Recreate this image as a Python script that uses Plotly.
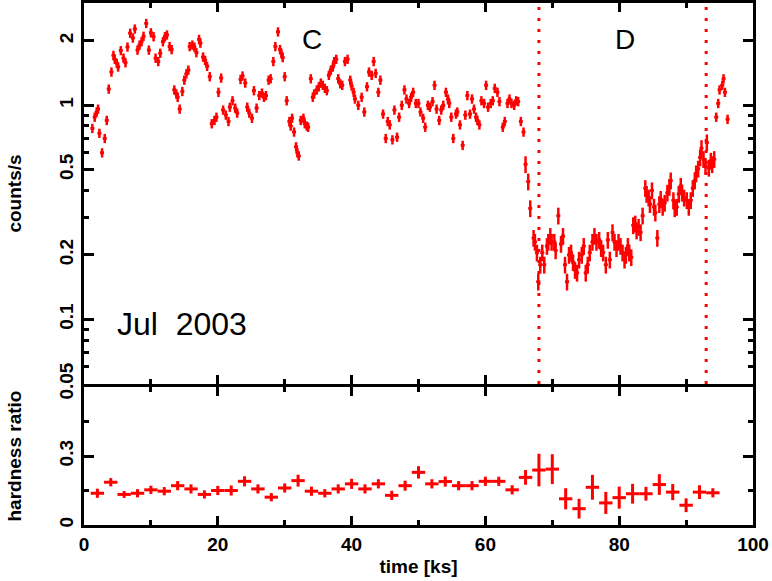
"""
Light curve (counts/s) and hardness ratio, Jul 2003 observation
"""
import math
import plotly.graph_objects as go

RED = '#ff0000'
FONT = 'Liberation Sans'

# light curve, bright part (C), time [ks] / rate [counts/s]
lc_time_high = [1.25, 1.6, 1.9, 2.1, 2.3, 2.7, 3.1, 3.4, 3.7, 4.1, 4.4, 4.6, 4.9, 5.1, 5.5, 5.9,
                6.2, 6.5, 6.9, 7.3, 7.6, 8.0, 8.3, 8.6, 8.9, 9.3, 9.7, 10.0, 10.4, 10.7, 11.1, 11.4,
                11.8, 12.1, 12.4, 12.8, 13.1, 13.5, 13.8, 14.0, 14.3, 14.7, 15.0, 15.3, 15.6, 15.8,
                16.2, 16.5, 16.8, 17.2, 17.4, 17.8, 18.1, 18.4, 18.8, 19.1, 19.5, 19.8,
                20.1, 20.5, 20.8, 21.2, 21.6, 21.8, 22.2, 22.6, 22.9, 23.4, 23.7, 24.1, 24.4, 24.7,
                25.1, 25.4, 25.8, 26.2, 26.6, 26.9, 27.2, 27.6, 27.9, 28.3, 28.6, 29.0, 29.3, 29.5,
                29.7, 30.0, 30.3, 30.7, 30.9, 31.1, 31.4, 31.7, 31.9, 32.1, 32.4, 32.8, 33.0, 33.3,
                33.5, 33.9, 34.2, 34.4, 34.8, 35.1, 35.4, 35.7, 36.0, 36.3, 36.6, 36.9, 37.2, 37.4,
                37.7, 38.0, 38.3, 38.6, 39.0, 39.4, 39.8, 40.0, 40.3, 40.5,
                41.0, 41.5, 41.9, 42.3, 42.6, 43.0, 43.3, 43.6, 44.0, 44.3, 44.7, 45.1, 45.4, 45.7,
                46.1, 46.4, 46.8, 47.1, 47.5, 47.9, 48.2, 48.6, 48.9, 49.2, 49.6, 50.0, 50.3, 50.7,
                51.0, 51.4, 51.7, 52.1, 52.4, 52.7, 53.1, 53.4, 53.7, 54.1, 54.4, 54.6, 54.9, 55.2,
                55.6, 55.8, 56.2, 56.6, 57.0, 57.3, 57.7, 58.0, 58.3, 58.6, 58.8, 59.1, 59.4, 59.8,
                60.1, 60.4, 60.8, 61.1, 61.4, 61.8, 62.1, 62.6, 62.9, 63.3, 63.6, 63.9, 64.3, 64.6,
                64.9, 65.3, 65.7]
lc_rate_high = [0.78, 0.88, 0.93, 0.96, 0.74, 0.60, 0.70, 0.85, 1.19, 1.43, 1.71, 1.64, 1.57, 1.51,
                1.80, 1.66, 1.58, 1.87, 2.17, 2.06, 2.27, 1.81, 1.91, 1.98, 2.10, 2.41, 1.81, 2.18,
                2.09, 1.66, 1.60, 1.75, 1.98, 2.09, 2.13, 1.88, 1.82, 1.18, 1.13, 1.09, 0.96, 1.16,
                1.31, 1.40, 1.46, 1.88, 1.91, 1.87, 1.76, 2.03, 1.95, 1.68, 1.62, 1.52, 1.36, 0.82,
                0.85, 0.88,
                1.15, 1.34, 0.95, 0.90, 0.84, 0.98, 1.05, 0.97, 0.92, 1.32, 1.37, 1.27, 0.98, 0.92,
                0.87, 1.17, 0.97, 1.11, 1.14, 1.09, 1.11, 1.31, 1.33, 1.60, 1.88, 2.20, 1.82, 1.75,
                1.67, 1.36, 1.05, 0.84, 0.80, 0.87, 0.75, 0.64, 0.60, 0.58, 0.85, 0.87, 0.82, 0.80,
                0.79, 1.33, 1.09, 1.13, 1.18, 1.22, 1.27, 1.24, 1.20, 1.17, 1.38, 1.46, 1.51, 1.60,
                1.64, 1.33, 1.26, 1.24, 1.60, 1.64, 1.31, 1.23, 1.15, 1.07,
                1.00, 1.09, 0.93, 1.22, 1.43, 1.38, 1.60, 1.41, 1.15, 1.31, 0.91, 0.70, 0.84, 0.81,
                0.69, 0.95, 0.71, 0.88, 1.00, 1.18, 1.07, 1.02, 1.09, 1.15, 1.02, 1.02, 0.93, 0.87,
                0.79, 1.00, 0.98, 1.04, 1.24, 0.96, 0.85, 0.95, 1.00, 1.15, 1.07, 1.02, 0.88, 0.70,
                0.91, 0.93, 0.81, 0.65, 0.90, 1.11, 0.91, 1.07, 0.96, 0.88, 0.85, 0.81, 1.05, 1.02,
                1.24, 0.98, 1.02, 1.05, 1.20, 1.15, 1.04, 0.79, 0.84, 1.02, 1.07, 1.02, 1.00, 1.05,
                1.04, 0.84, 0.75]

# light curve, faint part (D)
lc_time_low = [66.0, 66.4, 66.7, 67.2, 67.4, 67.7, 67.9, 68.2, 68.5, 68.8, 69.2, 69.4, 69.7, 69.9,
               70.3, 70.5, 70.9, 71.3, 71.6, 71.9, 72.2, 72.5, 72.8, 73.1, 73.4, 73.7, 74.0, 74.4,
               74.7, 75.0, 75.3, 75.6, 76.0, 76.3, 76.6, 77.0, 77.3, 77.6, 78.0, 78.3, 78.6, 79.0,
               79.3, 79.6, 79.9, 80.2, 80.5, 80.8, 81.0, 81.3, 81.5, 81.8, 82.1, 82.4, 82.6, 82.9,
               83.2, 83.5, 83.9, 84.1, 84.4, 84.6, 84.9, 85.2, 85.4, 85.7, 86.0, 86.2, 86.5, 86.8,
               87.2, 87.5, 87.7, 88.1, 88.3, 88.6, 88.9, 89.2, 89.4, 89.7, 90.1, 90.4, 90.7, 91.0,
               91.3, 91.5, 91.8, 92.1, 92.3, 92.6, 92.9, 93.1, 93.4, 93.7, 93.9, 94.2]
lc_rate_low = [0.53, 0.44, 0.33, 0.24, 0.23, 0.205, 0.15, 0.18, 0.205, 0.18, 0.22, 0.23, 0.245, 0.23,
               0.23, 0.21, 0.305, 0.225, 0.245, 0.18, 0.15, 0.20, 0.205, 0.185, 0.17, 0.165, 0.19,
               0.20, 0.22, 0.165, 0.18, 0.205, 0.23, 0.245, 0.23, 0.235, 0.215, 0.205, 0.18, 0.235,
               0.19, 0.255, 0.23, 0.215, 0.23, 0.22, 0.205, 0.19, 0.20, 0.22, 0.205, 0.195, 0.275,
               0.28, 0.26, 0.27, 0.255, 0.305, 0.41, 0.385, 0.37, 0.345, 0.40, 0.335, 0.315, 0.24,
               0.345, 0.365, 0.335, 0.35, 0.39, 0.415, 0.445, 0.36, 0.33, 0.335, 0.385, 0.42, 0.39,
               0.37, 0.36, 0.335, 0.36, 0.41, 0.445, 0.48, 0.505, 0.57, 0.63, 0.56, 0.52, 0.67,
               0.51, 0.55, 0.53, 0.56]

# light curve, recovery at the end
lc_time_end = [94.5, 94.8, 95.0, 95.4, 95.6, 95.8, 96.2]
lc_rate_end = [0.88, 1.02, 1.18, 1.24, 1.33, 1.15, 0.86]

# hardness ratio in 2 ks bins
hr_time = [2, 4, 6, 8, 10, 12, 14, 16, 18, 20, 22, 24, 26, 28, 30, 32, 34, 36, 38, 40, 42, 44, 46,
           48, 50, 52, 54, 56, 58, 60, 62, 64, 66, 68, 70, 72, 74, 76, 78, 80, 82, 84, 86, 88, 90,
           92, 94]
hr_value = [0.138, 0.186, 0.133, 0.138, 0.153, 0.147, 0.171, 0.157, 0.133, 0.150, 0.150, 0.190,
            0.157, 0.121, 0.161, 0.193, 0.147, 0.138, 0.157, 0.179, 0.157, 0.179, 0.129, 0.171,
            0.229, 0.179, 0.189, 0.171, 0.171, 0.190, 0.190, 0.153, 0.207, 0.239, 0.243, 0.114,
            0.071, 0.164, 0.096, 0.119, 0.136, 0.136, 0.176, 0.143, 0.086, 0.143, 0.140]
hr_error = [0.020, 0.018, 0.015, 0.018, 0.018, 0.018, 0.020, 0.020, 0.018, 0.020, 0.022, 0.022,
            0.020, 0.018, 0.020, 0.026, 0.020, 0.018, 0.020, 0.022, 0.020, 0.020, 0.020, 0.022,
            0.027, 0.020, 0.022, 0.020, 0.020, 0.020, 0.020, 0.020, 0.032, 0.071, 0.065, 0.046,
            0.043, 0.054, 0.048, 0.048, 0.043, 0.030, 0.045, 0.035, 0.030, 0.030, 0.020]

# interval boundaries [ks]
boundaries = [68, 93]

x_major = [0, 20, 40, 60, 80, 100]
x_minor = [10, 30, 50, 70, 90]
rate_ticks = [0.05, 0.1, 0.2, 0.5, 1, 2]
rate_labels = ['0.05', '0.1', '0.2', '0.5', '1', '2']
rate_minor = [0.06, 0.07, 0.08, 0.09, 0.3, 0.4, 0.6, 0.7, 0.8, 0.9]


def lc_trace(t, r, pct):
    return go.Scatter(
        x=t, y=r, mode='markers', xaxis='x', yaxis='y',
        marker=dict(color=RED, size=3, symbol='square'),
        error_x=dict(type='constant', value=0.3, color=RED, thickness=2.5, width=0),
        error_y=dict(type='percent', value=pct, color=RED, thickness=2.5, width=0),
        showlegend=False
    )


fig = go.Figure()
fig.add_trace(lc_trace(lc_time_high, lc_rate_high, 5))
fig.add_trace(lc_trace(lc_time_low, lc_rate_low, 9))
fig.add_trace(lc_trace(lc_time_end, lc_rate_end, 5))

fig.add_trace(go.Scatter(
    x=hr_time, y=hr_value, mode='markers', xaxis='x2', yaxis='y2',
    marker=dict(color=RED, size=2),
    error_x=dict(type='constant', value=1.0, color=RED, thickness=3, width=0),
    error_y=dict(type='data', array=hr_error, color=RED, thickness=3, width=0),
    showlegend=False
))

frame = dict(showline=True, linewidth=3, linecolor='black', mirror='ticks',
             ticks='inside', tickwidth=2.5, tickcolor='black',
             showgrid=False, zeroline=False, automargin=False)
tick_font = dict(family=FONT, size=19, color='black', weight='bold')
title_font = dict(family=FONT, size=19, color='black', weight='bold')

# axis lines sit outside their panel, so the lower panel stops 3px short
# of the upper one and both border lines land on the same pixels
split = 0.27
gap = 3 / 522

fig.update_layout(
    width=772, height=581,
    paper_bgcolor='white', plot_bgcolor='white',
    margin=dict(l=84, r=19, t=3, b=56),
    xaxis=dict(domain=[0, 1], anchor='y', matches='x2', range=[0, 100],
               tickmode='array', tickvals=x_major, showticklabels=False, ticklen=9,
               minor=dict(tickvals=x_minor, ticks='inside', ticklen=5, tickwidth=2.5,
                          tickcolor='black'),
               **frame),
    yaxis=dict(domain=[split, 1], anchor='x', type='log',
               range=[math.log10(0.05) - 0.0005, math.log10(3.0)],
               tickmode='array', tickvals=rate_ticks, ticktext=rate_labels, tickangle=-90,
               ticklen=10, tickfont=tick_font,
               minor=dict(tickvals=rate_minor, ticks='inside', ticklen=5, tickwidth=2.5,
                          tickcolor='black'),
               title=dict(text='counts/s', font=title_font, standoff=30),
               **frame),
    xaxis2=dict(domain=[0, 1], anchor='y2', range=[0, 100],
                tickmode='array', tickvals=x_major, ticklen=9, tickfont=tick_font,
                minor=dict(tickvals=x_minor, ticks='inside', ticklen=5, tickwidth=2.5,
                           tickcolor='black'),
                title=dict(text='time [ks]', font=title_font, standoff=6),
                **frame),
    yaxis2=dict(domain=[0, split - gap], anchor='x2', range=[0, 0.6],
                tickmode='array', tickvals=[0, 0.3], ticktext=['0', '0.3'], tickangle=-90,
                ticklen=10, tickfont=tick_font,
                minor=dict(tickvals=[0.15, 0.45], ticks='inside', ticklen=5, tickwidth=2.5,
                           tickcolor='black'),
                title=dict(text='hardness ratio', font=title_font, standoff=30),
                **frame),
)

# dotted lines marking intervals C / D
for b in boundaries:
    fig.add_shape(type='line', x0=b, x1=b, xref='x', y0=0, y1=1, yref='y domain',
                  line=dict(color=RED, width=3, dash='3px,8px'))

fig.add_annotation(x=34.1, y=math.log10(2.02), xref='x', yref='y', text='C',
                   showarrow=False, font=dict(family=FONT, size=28, color='black'))
fig.add_annotation(x=80.9, y=math.log10(2.02), xref='x', yref='y', text='D',
                   showarrow=False, font=dict(family=FONT, size=28, color='black'))
fig.add_annotation(x=4.6, y=math.log10(0.0953), xref='x', yref='y', text='Jul\u00a0 2003',
                   xanchor='left', showarrow=False,
                   font=dict(family=FONT, size=32, color='black'))

# page body has a default 8px margin; drop it so the figure fills the window
fig.write_html("out.html", config={'displayModeBar': False},
               post_script="document.body.style.margin='0px';")
